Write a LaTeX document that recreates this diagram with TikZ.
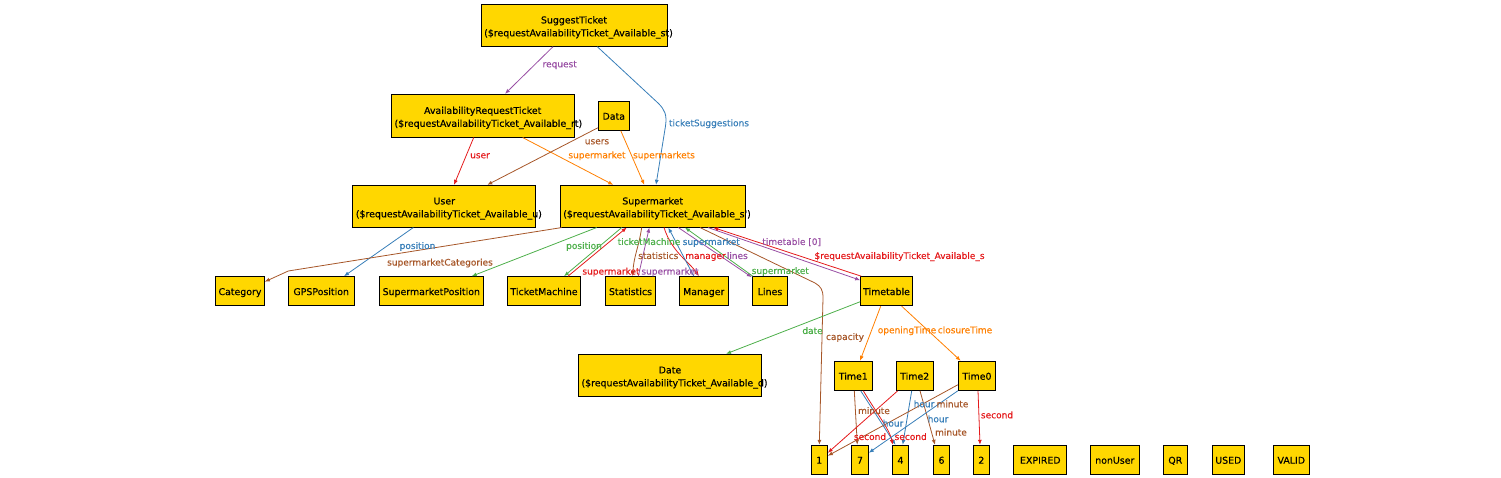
\documentclass[tikz,border=0pt]{standalone}
\usepackage{fontspec}
\usetikzlibrary{arrows.meta}
\newfontfamily\dejavu[FakeBold=0.3]{DejaVu Sans}
\newcommand\myNodeFont{\dejavu\fontsize{9.4}{11}\selectfont}
\newcommand\myLabFont{\dejavu\fontsize{9}{11}\selectfont}
\definecolor{gold}{HTML}{FFD700}
\definecolor{cpurple}{HTML}{984EA3}
\definecolor{cblue}{HTML}{377EB8}
\definecolor{cred}{HTML}{E41A1C}
\definecolor{cgreen}{HTML}{4DAF4A}
\definecolor{corange}{HTML}{FF7F00}
\definecolor{cbrown}{HTML}{A65628}
\tikzset{
  box/.style={draw=black, line width=1pt, fill=gold, inner sep=0pt, font=\myNodeFont, text height=9pt, text depth=1.2pt, minimum height=29pt},
  txt/.style={inner sep=0pt, font=\myNodeFont, text height=7pt, text depth=2pt},
  lab/.style={inner sep=0pt, font=\myLabFont, text height=6.5pt, text depth=2pt},
  e/.style={line width=0.8pt, -{Latex[length=5pt,width=4pt]}}
}
\begin{document}
\begin{tikzpicture}[x=1pt,y=-1pt]
\useasboundingbox (0,0) rectangle (1501,478);
% boxes
\node[box,minimum width=186pt,minimum height=42pt] (st) at (574,25.2) {};
\node[txt] (stA) at ([yshift=4.3pt]st.center) {SuggestTicket};
\node[txt,anchor=west] (stB) at ([xshift=3.5pt,yshift=-8.6pt]st.west) {(\$requestAvailabilityTicket\_Available\_st)};
\node[box,minimum width=182.7pt,minimum height=42.7pt] (art) at (482.7,115.7) {};
\node[txt] (artA) at ([yshift=4.3pt]art.center) {AvailabilityRequestTicket};
\node[txt,anchor=west] (artB) at ([xshift=3.5pt,yshift=-8.6pt]art.west) {(\$requestAvailabilityTicket\_Available\_rt)};
\node[box,minimum width=31pt] (data) at (613.8,115.8) {Data};
\node[box,minimum width=183.3pt,minimum height=41.7pt] (user) at (444.3,206.2) {};
\node[txt] (userA) at ([yshift=4.3pt]user.center) {User};
\node[txt,anchor=west] (userB) at ([xshift=3.5pt,yshift=-8.6pt]user.west) {(\$requestAvailabilityTicket\_Available\_u)};
\node[box,minimum width=185.3pt,minimum height=41.7pt] (sm) at (652.7,206.2) {};
\node[txt] (smA) at ([yshift=4.3pt]sm.center) {Supermarket};
\node[txt,anchor=west] (smB) at ([xshift=3.5pt,yshift=-8.6pt]sm.west) {(\$requestAvailabilityTicket\_Available\_s')};
\node[box,minimum width=48.6pt] (cat) at (240,291.2) {Category};
\node[box,minimum width=65.7pt] (gps) at (321.2,291.2) {GPSPosition};
\node[box,minimum width=104pt] (spos) at (431.3,291.2) {SupermarketPosition};
\node[box,minimum width=73.4pt] (tm) at (544,291.2) {TicketMachine};
\node[box,minimum width=49.6pt] (stat) at (630.5,291.2) {Statistics};
\node[box,minimum width=49pt] (man) at (703.8,291.2) {Manager};
\node[box,minimum width=35.4pt] (lin) at (770,291.2) {Lines};
\node[box,minimum width=51.6pt] (tt) at (886.5,291.2) {Timetable};
\node[box,minimum width=183.4pt,minimum height=41.7pt] (date) at (670,375.2) {};
\node[txt] (dateA) at ([yshift=4.3pt]date.center) {Date};
\node[txt,anchor=west] (dateB) at ([xshift=3.5pt,yshift=-8.6pt]date.west) {(\$requestAvailabilityTicket\_Available\_d)};
\node[box,minimum width=38pt] (t1) at (853.3,375.8) {Time1};
\node[box,minimum width=37.3pt] (t2) at (914.7,375.8) {Time2};
\node[box,minimum width=37.4pt] (t0) at (977,375.8) {Time0};
\node[box,minimum width=16pt] (n1) at (819.3,459.8) {1};
\node[box,minimum width=16.6pt] (n7) at (860,459.8) {7};
\node[box,minimum width=16.4pt] (n4) at (900.5,459.8) {4};
\node[box,minimum width=16.4pt] (n6) at (941.5,459.8) {6};
\node[box,minimum width=16pt] (n2) at (981.3,459.8) {2};
\node[box,minimum width=52.7pt] (exp) at (1040.3,459.8) {EXPIRED};
\node[box,minimum width=49pt] (nu) at (1114.8,459.8) {nonUser};
\node[box,minimum width=24pt] (qr) at (1175.3,459.8) {QR};
\node[box,minimum width=32pt] (used) at (1228.3,459.8) {USED};
\node[box,minimum width=36pt] (valid) at (1291.3,459.8) {VALID};
% edges
\draw[e,cpurple] ([xshift=-21pt]st.south) -- ([xshift=22.3pt]art.north);
\draw[e,cblue] ([xshift=23.3pt]st.south) -- (658.3,103.3) .. controls (665,110) and (667,115) .. (665.5,126) -- ([xshift=3.3pt]sm.north);
\draw[e,cred] ([xshift=-9pt]art.south) -- ([xshift=9.7pt]user.north);
\draw[e,corange] ([xshift=40pt]art.south) -- ([xshift=-39.4pt]sm.north);
\draw[e,cbrown] ([yshift=-12pt]data.west) -- ([xshift=43pt]user.north);
\draw[e,corange] ([xshift=7pt]data.south) -- ([xshift=-8.4pt]sm.north);
\draw[e,cblue] ([xshift=-31pt]user.south) -- ([xshift=22.8pt]gps.north);
\draw[e,cbrown] ([xshift=-91pt]sm.south) -- (288.3,271) -- ([yshift=9.5pt]cat.east);
\draw[e,cgreen] ([xshift=-56pt]sm.south) -- ([xshift=40.4pt]spos.north);
\draw[e,cgreen] ([xshift=-31pt]sm.south) -- ([xshift=20pt]tm.north);
\draw[e,cred] ([xshift=24pt]tm.north) -- ([xshift=-26pt]sm.south);
\draw[e,cbrown] ([xshift=-11pt]sm.south) .. controls +(-3,20) and +(1,-20) .. ([xshift=2.2pt]stat.north);
\draw[e,cpurple] ([xshift=7.8pt]stat.north) -- ([xshift=-3.4pt]sm.south);
\draw[e,cred] ([xshift=11.3pt]sm.south) .. controls +(8,25) and +(-10,-15) .. ([xshift=-5pt]man.north);
\draw[e,cblue] ([xshift=-10pt]man.north) -- ([xshift=15.6pt]sm.south);
\draw[e,cpurple] ([xshift=25.6pt]sm.south) -- ([yshift=-1pt]lin.north west);
\draw[e,cgreen] ([xshift=1pt]lin.north west) -- ([xshift=32.3pt]sm.south);
\draw[e,cbrown] ([xshift=47.3pt]sm.south) -- (815,283) .. controls (821,286.5) and (823,290) .. (823,298) -- (n1.north);
\draw[e,cpurple] ([xshift=55.3pt]sm.south) -- ([yshift=-4pt]tt.north west);
\draw[e,cred] ([xshift=1pt]tt.north west) -- ([xshift=60.6pt]sm.south);
\draw[e,cgreen] ([yshift=-10.5pt]tt.west) -- ([xshift=56pt]date.north);
\draw[e,corange] ([xshift=-5.8pt]tt.south) -- ([xshift=6.7pt]t1.north);
\draw[e,corange] ([xshift=15.2pt]tt.south) -- ([xshift=-16.3pt]t0.north);
\draw[e,cbrown] ([xshift=1pt]t1.south) -- ([xshift=-2.7pt]n7.north);
\draw[e,cblue] ([xshift=7.4pt]t1.south) -- ([xshift=-5pt]n4.north);
\draw[e,cred] ([xshift=10pt]t1.south) .. controls +(15,25) and +(-3,-15) .. ([xshift=-7.8pt]n4.north);
\draw[e,cred] ([xshift=-17pt]t2.south) -- ([yshift=7pt]n1.east);
\draw[e,cblue] ([xshift=-3pt]t2.south) -- ([xshift=2.2pt]n4.north);
\draw[e,cbrown] ([xshift=5.3pt]t2.south) -- ([xshift=-6.5pt]n6.north);
\draw[e,cbrown] ([yshift=-9pt]t0.west) -- ([yshift=4pt]n1.east);
\draw[e,cblue] (t0.south west) -- ([yshift=7pt]n7.east);
\draw[e,cred] ([xshift=1pt]t0.south) -- ([xshift=-1.3pt]n2.north);
% labels
\node[lab,text=cpurple] (l1) at (559.7,65) {request};
\node[lab,text=cblue] (l2) at (709,124) {ticketSuggestions};
\node[lab,text=cred] (l3) at (480,156) {user};
\node[lab,text=corange] (l4) at (597,156) {supermarket};
\node[lab,text=cbrown] (l5) at (597,142) {users};
\node[lab,text=corange] (l6) at (664,156) {supermarkets};
\node[lab,text=cblue] (l7) at (417.5,246.7) {position};
\node[lab,text=cbrown] (l8) at (440,263.3) {supermarketCategories};
\node[lab,text=cgreen] (l9) at (584,246.7) {position};
\node[lab,text=cgreen] (l10) at (649,242.7) {ticketMachine};
\node[lab,text=cred] (l11) at (611,272.3) {supermarket};
\node[lab,text=cbrown] (l12) at (658.3,256.7) {statistics};
\node[lab,text=cpurple] (l13) at (670,272.3) {supermarket};
\node[lab,text=cred] (l14) at (705.5,256.7) {manager};
\node[lab,text=cblue] (l15) at (711.3,242.7) {supermarket};
\node[lab,text=cpurple] (l16) at (737.3,256.7) {lines};
\node[lab,text=cgreen] (l17) at (780.3,271.7) {supermarket};
\node[lab,text=cbrown] (l18) at (845,337.7) {capacity};
\node[lab,text=cpurple] (l19) at (791.7,242.7) {timetable [0]};
\node[lab,text=cred] (l20) at (899.5,256.7) {\$requestAvailabilityTicket\_Available\_s};
\node[lab,text=cgreen] (l21) at (812.5,331.7) {date};
\node[lab,text=corange] (l22) at (907,331) {openingTime};
\node[lab,text=corange] (l23) at (965,331) {closureTime};
\node[lab,text=cbrown] (l24) at (874,411.7) {minute};
\node[lab,text=cblue] (l25) at (893,424.3) {hour};
\node[lab,text=cred] (l26) at (870,437.7) {second};
\node[lab,text=cred] (l27) at (910.7,437.7) {second};
\node[lab,text=cblue] (l28) at (924,405) {hour};
\node[lab,text=cbrown] (l29) at (952.5,405) {minute};
\node[lab,text=cblue] (l30) at (938,420) {hour};
\node[lab,text=cbrown] (l31) at (951,433.3) {minute};
\node[lab,text=cred] (l32) at (997,416) {second};
\end{tikzpicture}
\end{document}
